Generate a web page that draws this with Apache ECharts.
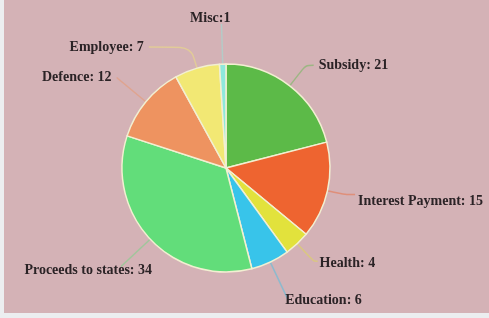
<!DOCTYPE html>
<html>
<head>
<meta charset="utf-8">
<script src="https://cdn.jsdelivr.net/npm/echarts@6/dist/echarts.min.js"></script>
<style>
  html, body { margin: 0; padding: 0; background: #eceef0; }
  #main { position: absolute; left: 4px; top: 0; width: 485px; height: 313px; }
</style>
</head>
<body>
<div id="main"></div>
<script>
// budget share, clockwise from 12 o'clock
var names = ['Subsidy', 'Interest Payment', 'Health', 'Education', 'Proceeds to states', 'Defence', 'Employee', 'Misc'];
var values = [21, 15, 4, 6, 34, 12, 7, 1];
var colors = ['#5cba48', '#ee6430', '#e2e23c', '#38c4ea', '#62dd7a', '#ee9360', '#f2e874', '#8ee8dc'];

// label line lengths per slice (first leg, second leg)
var leg1 = [26, 18, 24, 42, 40, 38, 22, 40];
var leg2 = [8, 10, 4, 0, 0, 0, 42, 0];
// small nudges for labels that sit off the guide line end
var nudge = {
  'Proceeds to states': [36, 4],
  'Misc': [14, -6],
  'Interest Payment': [-2, 7],
  'Health': [-3, 2],
  'Education': [-8, 0]
};

var chart = echarts.init(document.getElementById('main'));

var data = names.map(function (n, i) {
  return {
    name: n,
    value: values[i],
    itemStyle: { color: colors[i] },
    labelLine: { length: leg1[i], length2: leg2[i] }
  };
});

chart.setOption({
  backgroundColor: '#d4b2b6',
  animation: false,
  series: [{
    type: 'pie',
    center: [222, 168],
    radius: 104,
    startAngle: 90,
    clockwise: true,
    avoidLabelOverlap: false,
    itemStyle: { borderColor: '#f2efd2', borderWidth: 1.5 },
    label: {
      show: true,
      position: 'outside',
      alignTo: 'none',
      fontFamily: 'Liberation Serif',
      fontWeight: 'bold',
      fontSize: 14,
      color: '#2b2326',
      formatter: function (p) {
        return p.name === 'Misc' ? p.name + ':' + p.value : p.name + ': ' + p.value;
      }
    },
    labelLine: { show: true, smooth: 0.3, lineStyle: { width: 1.5, opacity: 0.45 } },
    labelLayout: function (p) {
      var d = nudge[names[p.dataIndex]];
      return d ? { dx: d[0], dy: d[1] } : {};
    },
    data: data
  }]
});
</script>
</body>
</html>
